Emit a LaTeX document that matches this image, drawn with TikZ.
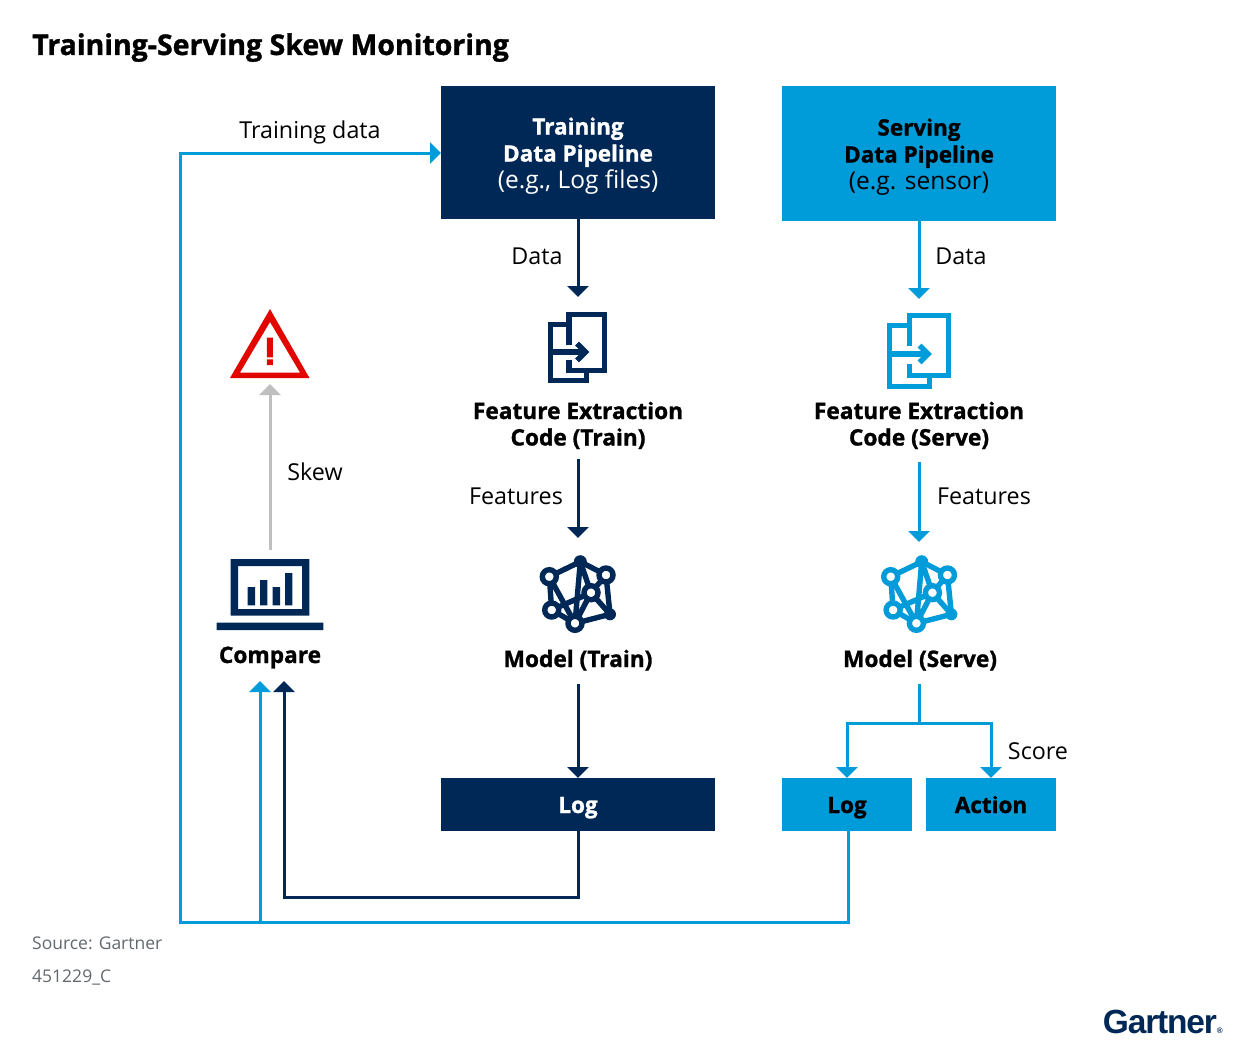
\documentclass[tikz,border=0pt]{standalone}
\usepackage{fontspec}
\setmainfont{Open Sans}[BoldFeatures={FakeBold=1.2}]
\newfontfamily\logofont{Liberation Sans}[LetterSpace=-3.5]
\definecolor{navy}{HTML}{002856}
\definecolor{sky}{HTML}{009BD9}
\definecolor{alert}{HTML}{E10600}
\definecolor{skewgrey}{HTML}{BFBFBF}
\definecolor{srcgrey}{HTML}{63696D}
\usetikzlibrary{arrows.meta}
\newcommand{\hd}[1]{{\fontsize{22.5}{27}\selectfont\bfseries #1}}
\tikzset{
  boxnode/.style={inner sep=0pt,outer sep=0pt,align=center,font=\fontsize{24.5}{27}\selectfont},
  strong/.style={font=\fontsize{22.7}{26.5}\selectfont\bfseries,align=center,inner sep=0pt},
  lbl/.style={font=\fontsize{23.3}{28}\selectfont,inner sep=0pt,anchor=base},
  conn/.style={line width=3pt},
  tipped/.style={conn,-{Triangle[width=21pt,length=11pt]}},
  iconline/.style={line width=5.4pt,line join=miter},
  logbox/.style={boxnode,minimum height=53pt,text height=20pt,text depth=3pt},
}
\newcommand{\netw}[3]{%
\begin{scope}[color=#1,line width=5.4pt]
\coordinate (#2t) at (#3+0,561.7);\coordinate (#2l) at (#3-31,576.7);
\coordinate (#2r) at (#3+25.7,575);\coordinate (#2m) at (#3+10.7,592.7);
\coordinate (#2a) at (#3-28.6,610);\coordinate (#2b) at (#3-5.3,623.3);
\coordinate (#2c) at (#3+29.7,614.3);
\draw[line join=round] (#2l)--(#2t)--(#2r)--(#2c)--(#2b)--(#2a)--cycle;
\draw (#2t)--(#2b) (#2t)--(#2m)--(#2c) (#2l)--(#2b) (#2m)--(#2b) (#2m)--(#2a) (#2m)--(#2r);
\fill (#2t) circle (6.5pt);\fill (#2c) circle (6pt);
\foreach \q in {l,r,m,a,b}{\filldraw[fill=white] (#2\q) circle (7pt);}
\end{scope}}
\begin{document}
\begin{tikzpicture}[x=1pt,y=-1pt]
\useasboundingbox[fill=white] (0,0) rectangle (1246,1046);
\node[anchor=base west,inner sep=0pt,font=\fontsize{28.5}{30}\selectfont\bfseries] (title) at (32,55) {Training-Serving Skew Monitoring};
% boxes
\node[boxnode,fill=navy,text=white,minimum width=274pt,minimum height=133pt] (tp) at (578,152.5) {\rule{0pt}{24pt}\hd{Training}\\\hd{Data Pipeline}\\(e.g., Log files)};
\node[boxnode,fill=sky,text=black,minimum width=274pt,minimum height=135pt] (sp) at (919,153.5) {\rule{0pt}{24pt}\hd{Serving}\\\hd{Data Pipeline}\\(e.g. sensor)};
\node[logbox,fill=navy,text=white,minimum width=274pt] (tl) at (578,804.5) {\hd{Log}};
\node[logbox,fill=sky,text=black,minimum width=130pt] (sl) at (847,804.5) {\hd{Log}};
\node[logbox,fill=sky,text=black,minimum width=130pt] (sa) at (991,804.5) {\hd{Action}};
% strong labels
\node[strong,anchor=base] (fet) at (578,445.5) {Feature Extraction\\Code (Train)};
\node[strong,anchor=base] (fes) at (919,445.5) {Feature Extraction\\Code (Serve)};
\node[strong,anchor=base] (mt) at (578,667) {Model (Train)};
\node[strong,anchor=base] (ms) at (920,667) {Model (Serve)};
\node[strong,anchor=base] (cmp) at (270,663) {Compare};
% plain labels
\node[lbl] (a1) at (310,138) {Training data};
\node[lbl] (a2) at (537,264) {Data};
\node[lbl] (a3) at (961,264) {Data};
\node[lbl] (a4) at (516,504) {Features};
\node[lbl] (a5) at (984,504) {Features};
\node[lbl] (a6) at (315,480) {Skew};
\node[lbl] (a7) at (1038,759) {Score};
\node[anchor=base west,inner sep=0pt,text=srcgrey,font=\fontsize{17.5}{20}\selectfont] (src) at (32,949) {Source: Gartner};
\node[anchor=base west,inner sep=0pt,text=srcgrey,font=\fontsize{17.5}{20}\selectfont] (num) at (32,982) {451229\_C};
\node[anchor=base east,inner sep=0pt,text=navy,font=\fontsize{33.5}{36}\selectfont\logofont\bfseries] (logo) at (1223,1033) {Gartner\fontsize{8}{8}\selectfont ®};
% coordinates
\coordinate (i1) at (578,297);\coordinate (i2) at (919,299);
\coordinate (o3) at (578,459);\coordinate (i3) at (578,538);
\coordinate (o4) at (919,462);\coordinate (i4) at (919,542);
\coordinate (o5) at (578,684);\coordinate (o6) at (919,684);
\coordinate (j6) at (919,723);
\coordinate (cn) at (284,681);\coordinate (cs) at (260,681);
\coordinate (st) at (270,384);\coordinate (sb) at (270,550);
\coordinate (c1) at (578,897);\coordinate (c2) at (284,897);
\coordinate (c3) at (848,922);\coordinate (c4) at (180,922);\coordinate (c5) at (180,153);\coordinate (c6) at (260,922);
\coordinate (tin) at (441,153);
% connectors
\draw[tipped,navy] (tp.south -| i1) -- (i1);
\draw[tipped,sky] (sp.south -| i2) -- (i2);
\draw[tipped,navy] (o3) -- (i3);
\draw[tipped,sky] (o4) -- (i4);
\draw[tipped,navy] (o5) -- (tl.north -| o5);
\draw[conn,sky] (o6) -- (j6);
\draw[tipped,sky] (j6) -| (sl.north);
\draw[tipped,sky] (j6) -| (sa.north);
\draw[tipped,navy] (tl.south -| c1) -- (c1) -- (c2) -- (cn);
\draw[tipped,sky] (sl.south -| c3) -- (c3) -- (c4) -- (c5) -- (tin);
\draw[tipped,sky] (c6) -- (cs);
\draw[tipped,skewgrey] (sb) -- (st);
% alert icon
\fill[alert,even odd rule] (270,309)--(230,378)--(309.5,378)--cycle (270,322)--(240,372.5)--(300,372.5)--cycle;
\fill[alert] (266.8,337.7) rectangle (272.8,357.3) (266.8,359.3) rectangle (272.8,365);
% laptop icon
\fill[navy,even odd rule] (230.7,559) rectangle (309.3,615.7) (238,566) rectangle (302,609);
\fill[navy] (247.7,587) rectangle (255,605.3) (260,580) rectangle (267.3,605.3) (272.7,587) rectangle (280,605.3) (285,573) rectangle (292.3,605.3) (216.7,622.7) rectangle (323.3,630);
% document icons
\begin{scope}[iconline,navy]
\draw (569,345)--(569,314.5)--(604.5,314.5)--(604.5,370.5)--(569,370.5)--(569,360);
\draw (569,324.5)--(550.5,324.5)--(550.5,380.5)--(586.5,380.5)--(586.5,372);
\draw (550,352)--(585,352);
\draw (577,343.5)--(585.5,352)--(577,360.5);
\end{scope}
\begin{scope}[iconline,sky]
\draw (909.5,346)--(909.5,315.5)--(948.5,315.5)--(948.5,375.5)--(909.5,375.5)--(909.5,364);
\draw (909.5,325.5)--(889.5,325.5)--(889.5,386.5)--(929.5,386.5)--(929.5,377);
\draw (889,354)--(928,354);
\draw (919.5,345.5)--(928,354)--(919.5,362.5);
\end{scope}
\netw{navy}{n}{580.3}
\netw{sky}{s}{921.7}
\end{tikzpicture}
\end{document}
